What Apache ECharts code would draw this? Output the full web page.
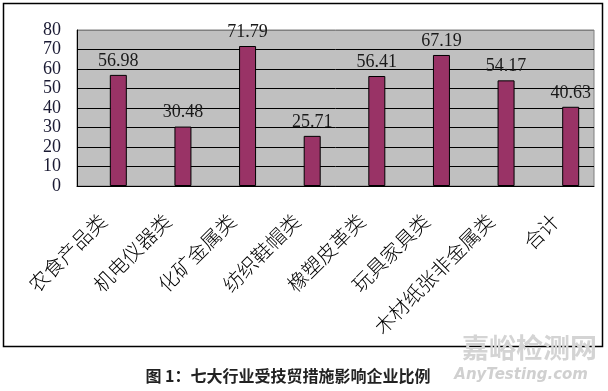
<!DOCTYPE html>
<html>
<head>
<meta charset="utf-8">
<script src="https://cdn.jsdelivr.net/npm/echarts@6/dist/echarts.min.js"></script>
<style>html,body{margin:0;padding:0;background:#fff}#c{width:608px;height:391px}</style>
</head>
<body>
<div id="c"></div>
<script>
const categories = ['农食产品类','机电仪器类','化矿金属类','纺织鞋帽类','橡塑皮革类','玩具家具类','木材纸张非金属类','合计'];
const values = [56.98, 30.48, 71.79, 25.71, 56.41, 67.19, 54.17, 40.63];
const yTicks = [0, 10, 20, 30, 40, 50, 60, 70, 80];
const caption = '图 1：七大行业受技贸措施影响企业比例';

const chart = echarts.init(document.getElementById('c'), null, {renderer: 'canvas'});
chart.setOption({
  animation: false,
  backgroundColor: '#fff',
  grid: {left: 77, top: 30, right: 14, bottom: 205, show: true, backgroundColor: '#C0C0C0', borderColor: '#808080', borderWidth: 1},
  xAxis: {
    type: 'category', data: categories,
    axisLine: {lineStyle: {color: '#000', width: 1}},
    axisTick: {inside: true, length: 5, lineStyle: {color: '#000'}},
    axisLabel: {rotate: 45, interval: 0, margin: 25, padding: [0, 9, 34, 0], fontFamily: 'Noto Sans CJK SC', fontWeight: 300, fontSize: 20, color: '#000'}
  },
  yAxis: {
    type: 'value', min: yTicks[0], max: yTicks[yTicks.length-1], interval: 10,
    axisLine: {show: true, lineStyle: {color: '#000'}},
    axisTick: {show: false},
    axisLabel: {margin: 16, fontFamily: 'Liberation Serif', fontSize: 18, color: '#1a1a33'},
    splitLine: {lineStyle: {color: ['#000','#000','#000','#000','#000','#000','#000','#000','#808080'], width: 1}}
  },
  series: [
    {type: 'bar', data: categories.map(() => null), barWidth: 17, barGap: '6%'},
    {type: 'bar', data: values, barWidth: 17,
     itemStyle: {color: '#993366', borderColor: '#000', borderWidth: 1},
     label: {show: true, position: 'top', distance: 5, fontFamily: 'Liberation Serif', fontSize: 18, color: '#1a1a1a',
       formatter: p => p.value.toFixed(2)}}
  ],
  graphic: [
    {type: 'rect', shape: {x: 3.5, y: 3.5, width: 599, height: 343}, style: {fill: 'none', stroke: '#000', lineWidth: 1.5}, silent: true},
    {type: 'text', x: 288, y: 376, style: {text: caption, font: 'bold 16px "Noto Sans CJK SC"', fill: '#222', align: 'center', verticalAlign: 'middle'}},
    {type: 'text', x: 597, y: 348, style: {text: '嘉峪检测网', font: 'bold 27px "Noto Sans CJK SC"', fill: '#d4d4d4', align: 'right', verticalAlign: 'middle'}},
    {type: 'text', x: 588, y: 375, style: {text: 'AnyTesting.com', font: 'italic bold 15px "DejaVu Sans"', fill: '#d0d0d0', align: 'right', verticalAlign: 'middle'}}
  ]
});
</script>
</body>
</html>
